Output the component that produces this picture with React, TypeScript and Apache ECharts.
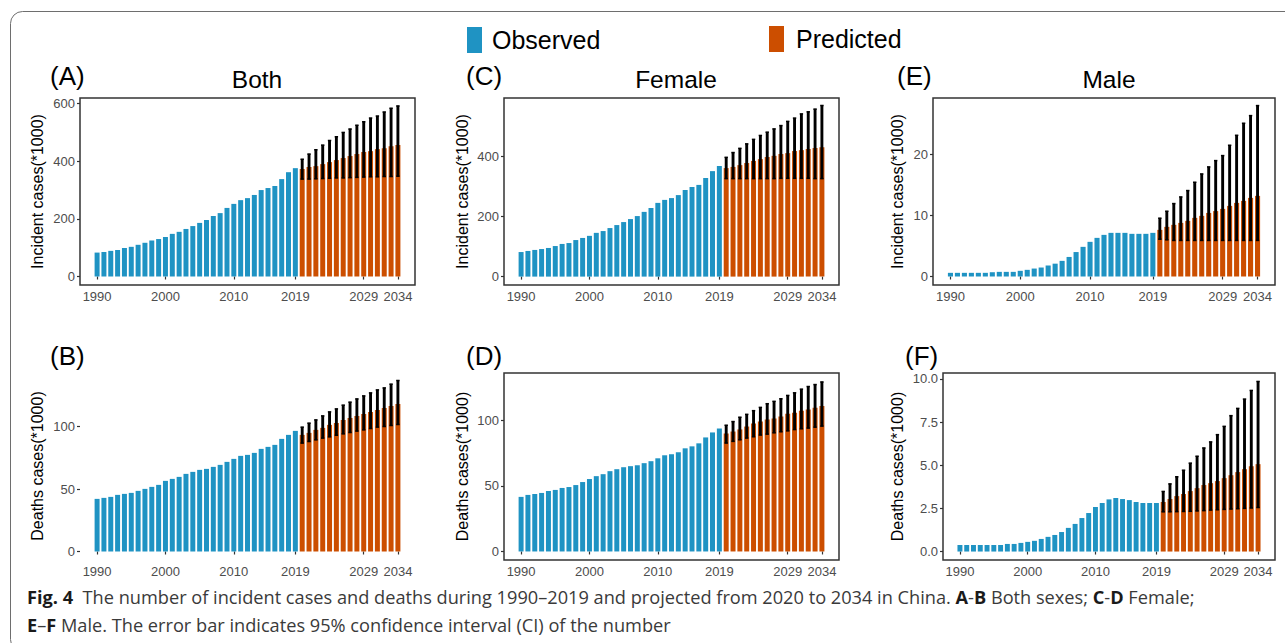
import React, { useEffect, useRef } from "react";
import * as echarts from "echarts";

// ---------- data ----------
const obsYears = [1990, 1991, 1992, 1993, 1994, 1995, 1996, 1997, 1998, 1999, 2000, 2001, 2002, 2003, 2004, 2005, 2006, 2007, 2008, 2009, 2010, 2011, 2012, 2013, 2014, 2015, 2016, 2017, 2018, 2019];
const predYears = [2020, 2021, 2022, 2023, 2024, 2025, 2026, 2027, 2028, 2029, 2030, 2031, 2032, 2033, 2034];
const xTickYears = [1990, 2000, 2010, 2019, 2029, 2034];

// (A) Both - incident
const bothIncObs = [83, 85, 89, 92, 99, 103, 110, 117, 125, 130, 137, 148, 155, 165, 175, 186, 196, 210, 220, 238, 252, 265, 272, 283, 300, 307, 314, 338, 362, 376];
const bothIncPred = [373, 380, 383, 390, 397, 404, 411, 418, 425, 432, 435, 442, 445, 452, 456];
const bothIncLo = [338, 338, 339, 340, 341, 342, 342, 343, 344, 345, 346, 346, 347, 347, 348];
const bothIncHi = [407, 425, 440, 456, 472, 485, 500, 512, 525, 537, 550, 557, 571, 584, 592];

// (B) Both - deaths
const bothDeaObs = [42.1, 42.9, 43.7, 45.3, 46.1, 46.9, 48.5, 50.1, 51.7, 53.3, 56.5, 58.1, 59.7, 62.1, 63.7, 65.3, 66.1, 67.7, 69.3, 71.7, 74.1, 76.5, 77.3, 78.9, 82.1, 83.7, 85.3, 90.1, 93.3, 96.5];
const bothDeaPred = [93.3, 94.9, 97.3, 98.9, 101.3, 102.9, 105.3, 106.9, 108.5, 110.1, 111.7, 113.3, 114.9, 116.5, 118.1];
const bothDeaLo = [86.7, 88, 89.3, 90.7, 91.7, 93, 94.1, 95.2, 96.3, 97.3, 98.4, 99.5, 100, 100.8, 101.6];
const bothDeaHi = [99.5, 102.7, 105.3, 108.5, 111.7, 114.1, 117.1, 119.5, 122.1, 124.5, 126.9, 129.3, 130.9, 133.9, 136.8];

// (C) Female - incident
const femIncObs = [82, 85.6, 89, 92, 95.6, 102, 109, 112, 122, 129, 136, 146, 152, 162, 172, 182, 192, 202, 216, 229, 246, 256, 262, 272, 289, 299, 306, 329, 352, 369];
const femIncPred = [362, 366, 372, 379, 386, 392, 399, 403, 409, 412, 419, 422, 426, 429, 432];
const femIncLo = [327, 327, 327, 327, 327, 327, 327, 327, 328, 328, 328, 328, 328, 327, 327];
const femIncHi = [398, 414, 428, 443, 458, 471, 482, 493, 504, 518, 529, 543, 550, 559, 571];

// (D) Female - deaths
const femDeaObs = [41.6, 43.1, 43.8, 44.6, 46.1, 46.9, 48.4, 49.1, 50.6, 52.9, 55.2, 57.4, 58.9, 61.2, 62.7, 64.2, 65, 65.7, 67.3, 68.8, 71, 73.3, 74.1, 75.6, 78.6, 80.1, 82.4, 86.9, 90.7, 93.7];
const femDeaPred = [89.9, 91.4, 93, 95.2, 97.5, 99, 100.5, 101.3, 102.8, 105, 105.8, 107.3, 108.1, 109.6, 110.8];
const femDeaLo = [82.6, 83.9, 85.1, 86.4, 87.4, 88.7, 89.4, 90.4, 91.2, 91.9, 92.9, 93.5, 94, 94.7, 95.5];
const femDeaHi = [96.2, 99, 102.3, 104.5, 107.3, 109.8, 112.6, 114.4, 116.4, 118.9, 120.9, 123.7, 125.7, 127.2, 129.2];

// (E) Male - incident
const maleIncObs = [0.6, 0.6, 0.6, 0.6, 0.6, 0.6, 0.7, 0.76, 0.76, 0.76, 0.93, 1.09, 1.3, 1.47, 1.8, 2.1, 2.56, 3.2, 4.0, 4.85, 5.67, 6.32, 6.81, 7.14, 7.14, 7.14, 6.98, 6.98, 6.98, 7.14];
const maleIncPred = [7.63, 8.12, 8.45, 8.77, 9.1, 9.59, 9.92, 10.4, 10.7, 11.06, 11.55, 12.04, 12.37, 12.86, 13.19];
const maleIncLo = [6.1, 6.0, 5.9, 5.9, 5.9, 5.9, 5.9, 5.9, 5.9, 5.9, 5.9, 5.9, 5.9, 5.9, 5.9];
const maleIncHi = [9.54, 10.68, 11.93, 13.02, 14.06, 15.42, 16.78, 17.93, 18.96, 19.78, 21.47, 23.1, 25.07, 26.32, 27.96];

// (F) Male - deaths
const maleDeaObs = [0.38, 0.38, 0.38, 0.38, 0.38, 0.38, 0.38, 0.44, 0.44, 0.5, 0.56, 0.62, 0.73, 0.85, 0.96, 1.13, 1.37, 1.6, 1.94, 2.23, 2.58, 2.81, 3.02, 3.1, 3.04, 2.98, 2.87, 2.81, 2.81, 2.81];
const maleDeaPred = [2.87, 3.04, 3.21, 3.33, 3.5, 3.67, 3.85, 3.96, 4.08, 4.25, 4.42, 4.6, 4.77, 4.94, 5.06];
const maleDeaLo = [2.3, 2.3, 2.31, 2.32, 2.33, 2.35, 2.37, 2.4, 2.42, 2.44, 2.46, 2.48, 2.5, 2.52, 2.55];
const maleDeaHi = [3.48, 3.92, 4.33, 4.71, 5.12, 5.52, 6.0, 6.35, 6.77, 7.25, 7.87, 8.29, 8.83, 9.33, 9.85];

const yTicksA = [0, 200, 400, 600];
const yTicksB = [0, 50, 100];
const yTicksC = [0, 200, 400];
const yTicksD = [0, 50, 100];
const yTicksE = [0, 10, 20];
const yTicksF = [0, 2.5, 5, 7.5, 10];

const incName = "Incident cases(*1000)";
const deaName = "Deaths cases(*1000)";

// ---------- layout / style ----------
const BLUE = "#1F93C3";
const ORANGE = "#CC4E00";
const FONT = "'Liberation Sans', Arial, Helvetica, sans-serif";

const panels = [
  { tag: "(A)", obs: bothIncObs, pred: bothIncPred, lo: bothIncLo, hi: bothIncHi, ticks: yTicksA, name: incName, dec: 0,
    g: { left: 80, top: 98, width: 335, height: 187 }, border: true, yMin: -29.5, yMax: 619.5, nameGap: 35 },
  { tag: "(B)", obs: bothDeaObs, pred: bothDeaPred, lo: bothDeaLo, hi: bothDeaHi, ticks: yTicksB, name: deaName, dec: 0,
    g: { left: 80, top: 372, width: 335, height: 188 }, border: false, yMin: -6.8, yMax: 143.6, nameGap: 35 },
  { tag: "(C)", obs: femIncObs, pred: femIncPred, lo: femIncLo, hi: femIncHi, ticks: yTicksC, name: incName, dec: 0,
    g: { left: 504, top: 98, width: 335, height: 187 }, border: true, yMin: -28, yMax: 596, nameGap: 34 },
  { tag: "(D)", obs: femDeaObs, pred: femDeaPred, lo: femDeaLo, hi: femDeaHi, ticks: yTicksD, name: deaName, dec: 0,
    g: { left: 504, top: 373, width: 335, height: 187 }, border: true, yMin: -6.5, yMax: 136, nameGap: 34 },
  { tag: "(E)", obs: maleIncObs, pred: maleIncPred, lo: maleIncLo, hi: maleIncHi, ticks: yTicksE, name: incName, dec: 0,
    g: { left: 933, top: 98, width: 342, height: 187 }, border: true, yMin: -1.39, yMax: 29.2, nameGap: 27.5 },
  { tag: "(F)", obs: maleDeaObs, pred: maleDeaPred, lo: maleDeaLo, hi: maleDeaHi, ticks: yTicksF, name: deaName, dec: 1,
    g: { left: 943, top: 373, width: 332, height: 187 }, border: true, yMin: -0.49, yMax: 10.34, nameGap: 37.5 },
];

const tagPos = [
  [50, 76], [50, 356], [466, 76], [466, 356], [897, 76], [905, 356],
];
const titles = [
  { text: "Both", x: 257, y: 79 },
  { text: "Female", x: 676, y: 79 },
  { text: "Male", x: 1109, y: 79 },
];

function buildOption() {
  const grid: any[] = [];
  const xAxis: any[] = [];
  const yAxis: any[] = [];
  const series: any[] = [];

  panels.forEach((p, i) => {
    grid.push({
      ...p.g,
      containLabel: false,
      show: p.border,
      borderColor: "#333333",
      borderWidth: 1.5,
      backgroundColor: "transparent",
    });
    xAxis.push({
      type: "value",
      gridIndex: i,
      min: 1987.5,
      max: 2036.5,
      axisLine: { show: false },
      splitLine: { show: false },
      axisTick: { show: true, customValues: xTickYears, length: 3, lineStyle: { color: "#333", width: 1.2 } },
      axisLabel: {
        show: true,
        customValues: xTickYears,
        color: "#4D4D4D",
        fontSize: 13,
        fontFamily: FONT,
        margin: 5,
        formatter: (v: number) => String(v),
      },
    });
    yAxis.push({
      type: "value",
      gridIndex: i,
      min: p.yMin,
      max: p.yMax,
      axisLine: { show: false },
      splitLine: { show: false },
      axisTick: { show: true, customValues: p.ticks, length: 3, lineStyle: { color: "#333", width: 1.2 } },
      axisLabel: {
        show: true,
        customValues: p.ticks,
        color: "#4D4D4D",
        fontSize: 13,
        fontFamily: FONT,
        margin: 5,
        formatter: (v: number) => v.toFixed(p.dec),
      },
      name: p.name,
      nameLocation: "middle",
      nameRotate: 90,
      nameGap: p.nameGap,
      nameTextStyle: { color: "#000", fontSize: 16, fontFamily: FONT },
    });
    series.push({
      type: "bar",
      name: "Observed",
      xAxisIndex: i,
      yAxisIndex: i,
      data: obsYears.map((y, k) => [y, p.obs[k]]),
      barWidth: "73%",
      barGap: "-100%",
      itemStyle: { color: BLUE },
      silent: true,
    });
    series.push({
      type: "bar",
      name: "Predicted",
      xAxisIndex: i,
      yAxisIndex: i,
      data: predYears.map((y, k) => [y, p.pred[k]]),
      barWidth: "73%",
      barGap: "-100%",
      itemStyle: { color: ORANGE },
      silent: true,
    });
    series.push({
      type: "custom",
      name: "CI",
      xAxisIndex: i,
      yAxisIndex: i,
      silent: true,
      z: 5,
      data: predYears.map((y, k) => [y, p.lo[k], p.hi[k]]),
      renderItem: (params: any, api: any) => {
        const x = api.value(0);
        const top = api.coord([x, api.value(2)]);
        const bot = api.coord([x, api.value(1)]);
        const cap = 1.7;
        return {
          type: "group",
          children: [
            { type: "line", shape: { x1: top[0], y1: top[1], x2: bot[0], y2: bot[1] }, style: { stroke: "#000", lineWidth: 2.9 } },
            { type: "line", shape: { x1: top[0] - cap, y1: top[1], x2: top[0] + cap, y2: top[1] }, style: { stroke: "#000", lineWidth: 1.5 } },
            { type: "line", shape: { x1: bot[0] - cap, y1: bot[1], x2: bot[0] + cap, y2: bot[1] }, style: { stroke: "#000", lineWidth: 1.5 } },
          ],
        };
      },
    });
  });

  const graphic: any[] = [
    {
      type: "rect",
      shape: { x: 10.5, y: 11.5, width: 1300, height: 640, r: 12 },
      style: { fill: "none", stroke: "#6E6E6E", lineWidth: 1 },
      silent: true,
    },
  ];
  panels.forEach((p, i) => {
    graphic.push({
      type: "text",
      x: tagPos[i][0],
      y: tagPos[i][1],
      style: { text: p.tag, fill: "#000", font: `26px ${FONT}`, textAlign: "left", textVerticalAlign: "middle" },
    });
  });
  titles.forEach((t) => {
    graphic.push({
      type: "text",
      x: t.x,
      y: t.y,
      style: { text: t.text, fill: "#000", font: `24.5px ${FONT}`, textAlign: "center", textVerticalAlign: "middle" },
    });
  });
  const capFont = "'Open Sans', 'Noto Sans', sans-serif";
  const capSize = 18.2;
  graphic.push({
    type: "text",
    x: 27,
    y: 597,
    style: {
      text:
        "{b|Fig. 4}  The number of incident cases and deaths during 1990–2019 and projected from 2020 to 2034 in China. {b|A}-{b|B} Both sexes; {b|C}-{b|D} Female;",
      fill: "#3A3A3A",
      font: `${capSize}px ${capFont}`,
      textAlign: "left",
      textVerticalAlign: "middle",
      rich: { b: { fontWeight: "bold", fill: "#1A1A1A", fontSize: capSize, fontFamily: capFont } },
    },
  });
  graphic.push({
    type: "text",
    x: 27,
    y: 625,
    style: {
      text: "{b|E}–{b|F} Male. The error bar indicates 95% confidence interval (CI) of the number",
      fill: "#3A3A3A",
      font: `${capSize}px ${capFont}`,
      textAlign: "left",
      textVerticalAlign: "middle",
      rich: { b: { fontWeight: "bold", fill: "#1A1A1A", fontSize: capSize, fontFamily: capFont } },
    },
  });

  const legendBase = {
    orient: "horizontal",
    itemWidth: 15,
    itemHeight: 26,
    icon: "rect",
    padding: 0,
    selectedMode: false,
  };

  return {
    animation: false,
    backgroundColor: "#fff",
    textStyle: { fontFamily: FONT },
    legend: [
      { ...legendBase, data: ["Observed"], left: 467, top: 27,
        textStyle: { fontSize: 25, color: "#000", fontFamily: FONT, padding: [0, 0, 0, 5] } },
      { ...legendBase, data: ["Predicted"], left: 769, top: 26,
        textStyle: { fontSize: 25, color: "#000", fontFamily: FONT, padding: [0, 0, 0, 7] } },
    ],
    grid,
    xAxis,
    yAxis,
    series,
    graphic,
  };
}

export default function App() {
  const ref = useRef<HTMLDivElement>(null);
  useEffect(() => {
    if (!ref.current) return;
    const chart = echarts.init(ref.current, null, { renderer: "svg" });
    chart.setOption(buildOption() as any);
    return () => chart.dispose();
  }, []);
  return (
    <div
      ref={ref}
      style={{ position: "absolute", left: 0, top: 0, width: 1285, height: 643, background: "#fff" }}
    />
  );
}
